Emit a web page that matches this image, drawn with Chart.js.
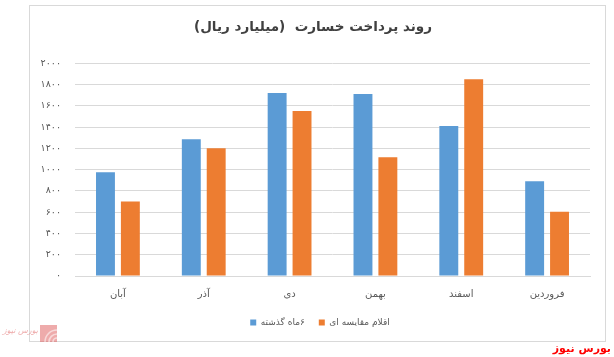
<!DOCTYPE html>
<html>
<head>
<meta charset="utf-8">
<script src="https://cdn.jsdelivr.net/npm/chart.js@4.4.1/dist/chart.umd.min.js"></script>
<style>
  html, body { margin: 0; padding: 0; background: #ffffff; }
  #wrap { width: 614px; height: 357px; position: relative; }
</style>
</head>
<body>
<div id="wrap"><canvas id="c" width="614" height="357" dir="rtl"></canvas></div>
<script>
// ---- data ----
const categories = ['آبان', 'آذر', 'دی', 'بهمن', 'اسفند', 'فروردین'];
const seriesNames = ['۶ماه گذشته', 'اقلام مقایسه ای'];
const pastSixMonths = [975, 1285, 1720, 1710, 1410, 890];
const comparisonItems = [700, 1200, 1550, 1115, 1850, 605];
const yMin = 0;
const yMax = 2000;
const yStep = 200;
const titleText = 'روند پرداخت خسارت  (میلیارد ریال)';
const brandText = 'بورس نیوز';

const faDigits = '۰۱۲۳۴۵۶۷۸۹';
function toFa(n) { return String(n).replace(/[0-9]/g, d => faDigits[+d]); }

const FONT = '"DejaVu Sans", sans-serif';
const LEFT_PAD = 36;

const framePlugin = {
  id: 'frame',
  afterLayout(chart) {
    if (chart.legend) {
      chart.legend.top -= 8;
      chart.legend.bottom -= 8;
      chart.legend.left += 7;
      chart.legend.right += 7;
    }
  },
  beforeDraw(chart) {
    const ctx = chart.ctx;
    ctx.save();
    ctx.strokeStyle = '#d9d9d9';
    ctx.lineWidth = 1;
    ctx.strokeRect(29.5, 5.5, 576, 336);
    ctx.restore();
  },
  afterDraw(chart) {
    const ctx = chart.ctx;
    ctx.save();
    // watermark logo bottom-left
    ctx.globalAlpha = 0.55;
    ctx.fillStyle = '#e06666';
    ctx.fillRect(40, 325, 17, 17);
    ctx.strokeStyle = '#ffffff';
    ctx.lineWidth = 1.6;
    for (let r = 4; r <= 12; r += 4) {
      ctx.beginPath();
      ctx.arc(57, 342, r, Math.PI, 1.5 * Math.PI);
      ctx.stroke();
    }
    ctx.font = 'italic 8px ' + FONT;
    ctx.fillStyle = '#e06666';
    ctx.textAlign = 'right';
    ctx.textBaseline = 'middle';
    ctx.fillText(brandText, 38, 331);
    ctx.globalAlpha = 1;
    // brand text bottom-right
    ctx.font = 'bold 11px ' + FONT;
    ctx.fillStyle = '#ff0000';
    ctx.textAlign = 'right';
    ctx.textBaseline = 'alphabetic';
    ctx.fillText(brandText, 611, 352);
    ctx.restore();
  }
};

new Chart(document.getElementById('c'), {
  type: 'bar',
  data: {
    labels: categories,
    datasets: [
      { label: seriesNames[0], data: pastSixMonths, backgroundColor: '#5B9BD5', borderWidth: 0 },
      { label: seriesNames[1], data: comparisonItems, backgroundColor: '#ED7D31', borderWidth: 0 }
    ]
  },
  options: {
    responsive: false,
    devicePixelRatio: 1,
    animation: false,
    categoryPercentage: 0.58,
    barPercentage: 0.76,
    layout: { padding: { left: LEFT_PAD, right: 24, top: 0, bottom: 12 } },
    plugins: {
      title: {
        display: true,
        text: titleText,
        color: '#404040',
        font: { family: FONT, size: 13.5, weight: 'bold', lineHeight: 1.2 },
        padding: { top: 19, bottom: 28 }
      },
      legend: {
        position: 'bottom',
        labels: {
          boxWidth: 6,
          boxHeight: 6,
          padding: 14,
          color: '#595959',
          font: { family: FONT, size: 9 }
        }
      },
      tooltip: { enabled: false }
    },
    scales: {
      x: {
        grid: { display: false, drawTicks: false },
        border: { display: true, color: '#d9d9d9' },
        ticks: { color: '#595959', font: { family: FONT, size: 10 }, padding: 12 }
      },
      y: {
        min: yMin,
        max: yMax,
        afterFit(scale) { scale.width = 75 - LEFT_PAD; },
        grid: { color: '#d9d9d9', drawTicks: false },
        border: { display: false },
        ticks: {
          stepSize: yStep,
          color: '#595959',
          padding: 14,
          font: { family: FONT, size: 9.5 },
          callback: v => toFa(v)
        }
      }
    }
  },
  plugins: [framePlugin]
});
</script>
</body>
</html>
